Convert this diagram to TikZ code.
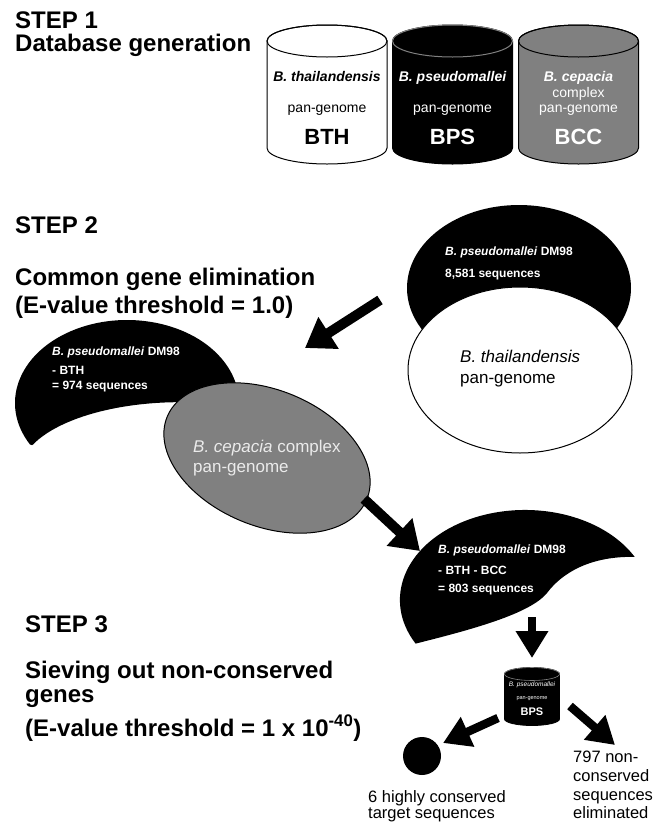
\documentclass[tikz,border=0pt]{standalone}
\usepackage{fontspec}
\setmainfont{Liberation Sans}
\usetikzlibrary{arrows.meta, positioning}

\definecolor{bccgray}{gray}{0.5}

\begin{document}
\begin{tikzpicture}[x=1pt, y=-1pt,
  steptitle/.style={font=\fontsize{24}{28}\selectfont\bfseries, anchor=base west, inner sep=0pt},
  cyltext/.style={font=\fontsize{14}{16}\selectfont, anchor=base, inner sep=0pt},
  cylname/.style={font=\fontsize{14}{16}\selectfont\bfseries\itshape, anchor=base, inner sep=0pt},
  cyltag/.style={font=\fontsize{22}{24}\selectfont\bfseries, anchor=base, inner sep=0pt},
  blobtext/.style={font=\fontsize{12}{14}\selectfont\bfseries, text=white, anchor=base west, inner sep=0pt},
  settext/.style={font=\fontsize{17}{20}\selectfont, anchor=base west, inner sep=0pt},
  outtext/.style={font=\fontsize{16.5}{19}\selectfont, anchor=base west, inner sep=0pt},
  fatarrow/.style={-{Triangle[length=28pt, width=36pt]}, line width=10pt},
  slimarrow/.style={-{Triangle[length=27pt, width=31pt]}, line width=8.5pt}
]

\useasboundingbox (0,0) rectangle (669,825);

% databases
\foreach \cx/\col/\rim in {327/white/black, 452.5/black/gray, 578.5/bccgray/black} {
  \filldraw[fill=\col, line width=1pt] (\cx-60,41) -- (\cx-60,148) arc[start angle=180, end angle=0, x radius=60, y radius=16]
    -- (\cx+60,41) arc[start angle=0, end angle=-180, x radius=60, y radius=16] -- cycle;
  \draw[\rim, line width=1pt] (\cx,41) ellipse[x radius=60, y radius=16];
}

\node[cylname] (bthname) at (327,81) {B. thailandensis};
\node[cyltext] (bthpan) at (327,112) {pan-genome};
\node[cyltag] (bthtag) at (327,144) {BTH};

\node[cylname, text=white] (bpsname) at (452.5,81) {B. pseudomallei};
\node[cyltext, text=white] (bpspan) at (452.5,112) {pan-genome};
\node[cyltag, text=white] (bpstag) at (452.5,144) {BPS};

\node[cylname, text=white] (bccname) at (578.5,81) {B. cepacia};
\node[cyltext, text=white] (bcccomplex) at (578.5,97) {complex};
\node[cyltext, text=white] (bccpan) at (578.5,112) {pan-genome};
\node[cyltag, text=white] (bcctag) at (578.5,144) {BCC};

% step titles
\node[steptitle] (step1) at (15,28) {STEP 1};
\node[steptitle, below=23pt of step1.base west, anchor=base west] (dbgen) {Database generation};

\node[steptitle] (step2) at (15,233) {STEP 2};
\node[steptitle] (commongene) at (15,285) {Common gene elimination};
\node[steptitle, below=28pt of commongene.base west, anchor=base west] (evalone) {(E-value threshold = 1.0)};

\node[steptitle] (step3) at (25,632) {STEP 3};
\node[steptitle] (sieving) at (25,678) {Sieving out non-conserved};
\node[steptitle, below=24pt of sieving.base west, anchor=base west] (genes) {genes};
\node[steptitle, below=34pt of genes.base west, anchor=base west] (evalforty) {(E-value threshold = 1 x 10\textsuperscript{-40})};

% DM98 against BTH
\fill (519,288) ellipse[x radius=112, y radius=83];
\filldraw[fill=white, line width=1pt] (520,370) ellipse[x radius=112, y radius=83];
\node[blobtext] (dmall) at (445,255) {\textit{B. pseudomallei} DM98};
\node[blobtext, below=22pt of dmall.base west, anchor=base west] (dmallcount) {8,581 sequences};
\node[settext] (bthset) at (460,362) {\textit{B. thailandensis}};
\node[settext, below=21pt of bthset.base west, anchor=base west] (bthsetpan) {pan-genome};

% DM98 - BTH against BCC
\fill (30,444.5) arc[start angle=150, end angle=380, x radius=112, y radius=83]
  -- (232,406) arc[start angle=-71, end angle=-157.3, x radius=160, y radius=70] -- cycle;
\filldraw[fill=bccgray, line width=1pt, rotate around={-22.5:(267,458)}] (267,458) ellipse[x radius=108, y radius=68];
\node[blobtext] (dmbth) at (52,355) {\textit{B. pseudomallei} DM98};
\node[blobtext, below=19pt of dmbth.base west, anchor=base west] (dmbthminus) {- BTH};
\node[blobtext, below=15pt of dmbthminus.base west, anchor=base west] (dmbthcount) {= 974 sequences};
\node[settext, text=white!92!black] (bccset) at (193,452) {\textit{B. cepacia} complex};
\node[settext, text=white!92!black, below=20pt of bccset.base west, anchor=base west] (bccsetpan) {pan-genome};

% DM98 - BTH - BCC
\fill (415.6,643.6) arc[start angle=151, end angle=331.4, x radius=125, y radius=90]
  .. controls (590,556) and (562,573) .. (547,593)
  .. controls (530,614) and (470,630) .. cycle;
\node[blobtext] (dmbcc) at (438,553) {\textit{B. pseudomallei} DM98};
\node[blobtext, below=21pt of dmbcc.base west, anchor=base west] (dmbccminus) {- BTH - BCC};
\node[blobtext, below=18pt of dmbccminus.base west, anchor=base west] (dmbcccount) {= 803 sequences};

% step 3 database
\filldraw[line width=0.8pt] (504.5,674) -- (504.5,719) arc[start angle=180, end angle=0, x radius=27.5, y radius=6.5]
  -- (559.5,674) arc[start angle=0, end angle=-180, x radius=27.5, y radius=6.5] -- cycle;
\draw[gray, line width=0.6pt] (532,674) ellipse[x radius=27.5, y radius=6.5];
\node[font=\fontsize{6.5}{7}\selectfont\itshape, text=white, anchor=base, inner sep=0pt] (smallname) at (532,686) {B. pseudomallei};
\node[font=\fontsize{5.5}{6}\selectfont, text=white, anchor=base, inner sep=0pt] (smallpan) at (532,699) {pan-genome};
\node[font=\fontsize{11}{12}\selectfont\bfseries, text=white, anchor=base, inner sep=0pt] (smalltag) at (532,715) {BPS};

\node[circle, fill, minimum size=38pt, inner sep=0pt] (hits) at (422,756) {};
\node[outtext] (hitslbl) at (368,802) {6 highly conserved};
\node[outtext, below=16pt of hitslbl.base west, anchor=base west] (hitslbltwo) {target sequences};

\node[outtext] (droplbl) at (573,762) {797 non-};
\node[outtext, below=19pt of droplbl.base west, anchor=base west] (droplbltwo) {conserved};
\node[outtext, below=19pt of droplbltwo.base west, anchor=base west] (droplblthree) {sequences};
\node[outtext, below=18pt of droplblthree.base west, anchor=base west] (droplblfour) {eliminated};

% arrows
\coordinate (cutbth-from) at (380,300);
\coordinate (cutbth-to) at (305,348);
\coordinate (cutbcc-from) at (364,499);
\coordinate (cutbcc-to) at (420,551);
\coordinate (sieve-from) at (532,617);
\coordinate (sieve-to) at (532,658);
\coordinate (keep-from) at (498,718);
\coordinate (keep-to) at (443,743);
\coordinate (drop-from) at (570,706);
\coordinate (drop-to) at (615,745);

\draw[fatarrow] (cutbth-from) -- (cutbth-to);
\draw[fatarrow] (cutbcc-from) -- (cutbcc-to);
\draw[slimarrow] (sieve-from) -- (sieve-to);
\draw[slimarrow] (keep-from) -- (keep-to);
\draw[slimarrow] (drop-from) -- (drop-to);

\end{tikzpicture}
\end{document}
